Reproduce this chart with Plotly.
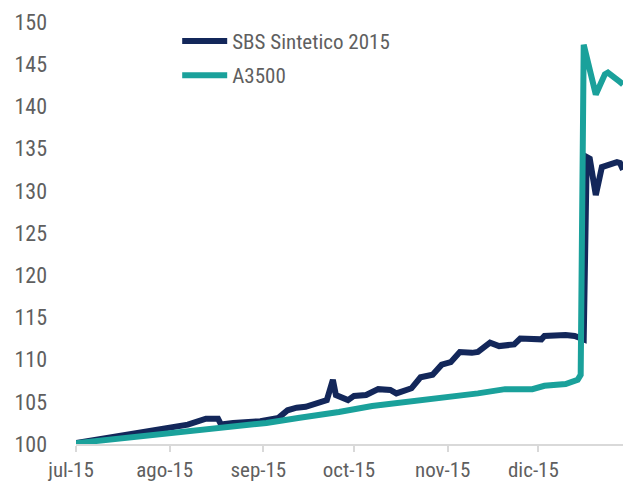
import plotly.graph_objects as go

# SBS Sintetico 2015 (navy)
sbs_dates = ["2015-07-01", "2015-07-12", "2015-07-20", "2015-07-31", "2015-08-07", "2015-08-13",
             "2015-08-17", "2015-08-18", "2015-08-22", "2015-08-31", "2015-09-06", "2015-09-09",
             "2015-09-12", "2015-09-15", "2015-09-20", "2015-09-22", "2015-09-24", "2015-09-25",
             "2015-09-29", "2015-10-01", "2015-10-05", "2015-10-09", "2015-10-13", "2015-10-15",
             "2015-10-20", "2015-10-23", "2015-10-27", "2015-10-30", "2015-11-02", "2015-11-05",
             "2015-11-09", "2015-11-11", "2015-11-15", "2015-11-18", "2015-11-23", "2015-11-25",
             "2015-12-02", "2015-12-03", "2015-12-10", "2015-12-13", "2015-12-16", "2015-12-17",
             "2015-12-18", "2015-12-20", "2015-12-22", "2015-12-24", "2015-12-27", "2015-12-28",
             "2015-12-29"]
sbs_values = [100.1, 100.8, 101.2, 101.9, 102.3, 103.0,
              103.0, 102.3, 102.5, 102.7, 103.1, 104.0,
              104.3, 104.4, 105.0, 105.2, 107.6, 105.8,
              105.2, 105.7, 105.8, 106.5, 106.4, 106.0,
              106.6, 107.9, 108.2, 109.4, 109.7, 110.9,
              110.8, 110.9, 112.0, 111.6, 111.8, 112.5,
              112.4, 112.8, 112.9, 112.8, 112.4, 134.0,
              133.8, 129.5, 132.8, 133.0, 133.4, 133.3,
              132.5]

# A3500 (teal)
a3500_dates = ["2015-07-01", "2015-07-12", "2015-07-31", "2015-08-11", "2015-08-22", "2015-09-02",
               "2015-09-13", "2015-09-15", "2015-09-26", "2015-10-07", "2015-10-20", "2015-10-31",
               "2015-11-11", "2015-11-20", "2015-11-29", "2015-12-03", "2015-12-10", "2015-12-14",
               "2015-12-15", "2015-12-16", "2015-12-20", "2015-12-23", "2015-12-24", "2015-12-28",
               "2015-12-29"]
a3500_values = [100.1, 100.5, 101.3, 101.7, 102.0, 102.5,
                103.1, 103.2, 103.8, 104.5, 105.0, 105.5,
                106.0, 106.5, 106.5, 106.9, 107.1, 107.6,
                108.2, 147.3, 141.4, 143.8, 144.0, 142.9,
                142.6]

tick_vals = ["2015-07-01", "2015-08-01", "2015-09-01", "2015-10-01", "2015-11-01", "2015-12-01"]
tick_text = ["jul-15", "ago-15", "sep-15", "oct-15", "nov-15", "dic-15"]
y_ticks = [100, 105, 110, 115, 120, 125, 130, 135, 140, 145, 150]

NAVY = "#13275A"
TEAL = "#1AA19B"
FONT = "Liberation Sans Narrow, Roboto Condensed, Roboto, sans-serif"
GRAY = "#5F5F5F"

fig = go.Figure()
fig.add_trace(go.Scatter(x=sbs_dates, y=sbs_values, mode="lines", name="SBS Sintetico 2015",
                         line=dict(color=NAVY, width=6), legendgroup="a"))
fig.add_trace(go.Scatter(x=a3500_dates, y=a3500_values, mode="lines", name="A3500",
                         line=dict(color=TEAL, width=6), legendgroup="b"))

fig.update_layout(
    width=623, height=483,
    margin=dict(l=76, r=0, t=22, b=39, autoexpand=False),
    plot_bgcolor="white", paper_bgcolor="white",
    font=dict(family=FONT, color=GRAY, size=22),
    legend=dict(x=0.185, y=1.003, xanchor="left", yanchor="top",
                font=dict(size=21, color=GRAY), tracegroupgap=4,
                itemwidth=45, bgcolor="rgba(0,0,0,0)"),
    xaxis=dict(type="date", range=["2015-07-01", "2015-12-29"], automargin=False,
               tickvals=tick_vals, ticktext=tick_text,
               showgrid=False, showline=True, linecolor="#D9D9D9", linewidth=2,
               ticks="outside", ticklen=6, tickcolor="#D9D9D9", tickwidth=2,
               tickfont=dict(size=21, color=GRAY), zeroline=False,
               ticklabelstandoff=0, ticklabelshift=-5),
    yaxis=dict(range=[100, 150], tickvals=y_ticks, showgrid=False, zeroline=False,
               automargin=False,
               showline=False, ticks="", tickfont=dict(size=22, color=GRAY),
               ticklabelstandoff=28),
)

fig.write_html("out.html", config={"displayModeBar": False},
               post_script="document.body.style.margin='0';document.body.style.overflow='hidden';")
